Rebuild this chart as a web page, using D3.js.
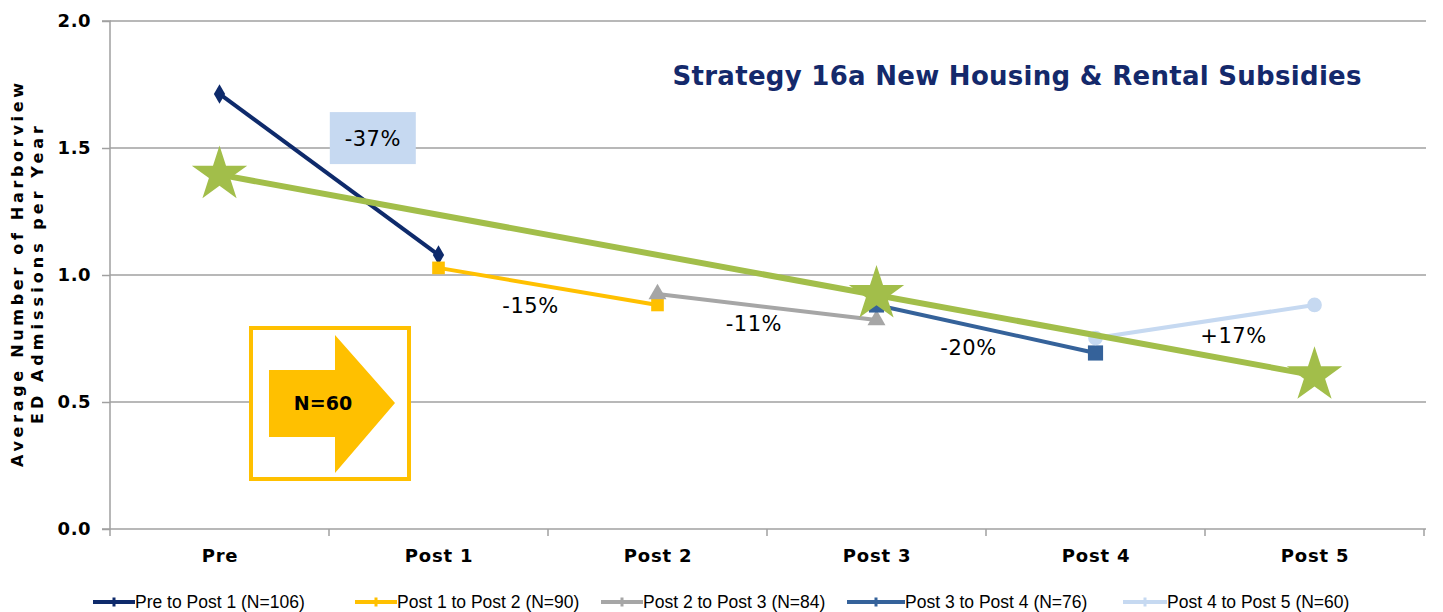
<!DOCTYPE html>
<html><head><meta charset="utf-8">
<script src="https://cdn.jsdelivr.net/npm/d3@7"></script>
<style>body{margin:0;background:#fff}svg{display:block}</style>
</head><body>
<svg id="c" width="1443" height="612"></svg>
<script>
const categories = ["Pre","Post 1","Post 2","Post 3","Post 4","Post 5"];
const yTicks = [0, 0.5, 1.0, 1.5, 2.0];
const seriesNames = ["Pre to Post 1 (N=106)","Post 1 to Post 2 (N=90)","Post 2 to Post 3 (N=84)","Post 3 to Post 4 (N=76)","Post 4 to Post 5 (N=60)"];
const seriesCats = [["Pre","Post 1"],["Post 1","Post 2"],["Post 2","Post 3"],["Post 3","Post 4"],["Post 4","Post 5"]];
const seriesValues = [[1.713,1.079],[1.028,0.882],[0.925,0.823],[0.882,0.693],[0.752,0.882]];
const seriesColors = ["#0E2A6B","#FFC000","#A6A6A6","#35629A","#C6D9F1"];
const seriesMarkers = ["diamond","square","triangle","square","circle"];
const markerSizes = [110,160,140,230,170];
const trendCats = ["Pre","Post 3","Post 5"];
const trendValues = [1.395,0.925,0.605];
const changeLabels = ["-37%","-15%","-11%","-20%","+17%"];
const changeAnchorCats = ["Pre","Post 1","Post 2","Post 3","Post 4"];
const changeAnchorFrac = [0.70,0.42,0.44,0.42,0.63];
const changeAnchorVals = [1.539,0.882,0.811,0.713,0.764];
const title = "Strategy 16a New Housing & Rental Subsidies";
const yTitle = ["Average Number of Harborview","ED Admissions per Year"];
const nLabel = "N=60";

const svg = d3.select("#c");
const L=110, R=1424, T=21, B=529;
const x = d3.scalePoint().domain(categories).range([L,R]).padding(0.5);
const y = d3.scaleLinear().domain([0,2]).range([B,T]);
const step = x.step();

// gridlines
svg.append("g").selectAll("line").data(yTicks.filter(d=>d>0)).join("line")
  .attr("x1",L).attr("x2",R+2).attr("y1",d=>y(d)).attr("y2",d=>y(d))
  .attr("stroke","#A0A0A0").attr("stroke-width",1.5);

// y axis
const ya = svg.append("g").attr("transform",`translate(${L},0)`)
  .call(d3.axisLeft(y).tickValues(yTicks).tickFormat(d3.format(".1f")).tickSize(8).tickPadding(11));
ya.select(".domain").attr("stroke","#A0A0A0").attr("stroke-width",1.5).attr("d",`M-8,${T}H0V${B}`);
ya.selectAll(".tick line").attr("stroke","#A0A0A0").attr("stroke-width",1.5);
ya.selectAll(".tick text").attr("font-family","DejaVu Sans").attr("font-weight","bold").attr("font-size",18).attr("fill","#000").attr("letter-spacing",0.5);

// x axis
const xa = svg.append("g").attr("transform",`translate(0,${B})`)
  .call(d3.axisBottom(x).tickSize(0).tickPadding(26));
xa.select(".domain").attr("stroke","#A0A0A0").attr("stroke-width",1.5).attr("d",`M${L-8},0H${R+2}`);
xa.selectAll(".tick text").attr("font-family","DejaVu Sans").attr("font-weight","bold").attr("font-size",18).attr("fill","#000").attr("letter-spacing",0.8).attr("dy","0.4em");
xa.selectAll("line.bt").data(d3.range(categories.length+1)).join("line").attr("class","bt")
  .attr("x1",i=>L+i*step).attr("x2",i=>L+i*step).attr("y1",0).attr("y2",7)
  .attr("stroke","#A0A0A0").attr("stroke-width",1.5);

// y title
const yt = svg.append("text").attr("transform","rotate(-90)")
  .attr("font-family","DejaVu Sans").attr("font-weight","bold").attr("font-size",16).attr("fill","#000").attr("text-anchor","middle");
yt.append("tspan").attr("x",-(T+B)/2).attr("y",23).attr("textLength",384).attr("lengthAdjust","spacing").text(yTitle[0]);
yt.append("tspan").attr("x",-(T+B)/2).attr("y",43).attr("textLength",298).attr("lengthAdjust","spacing").text(yTitle[1]);

// title
svg.append("text").attr("x",1017).attr("y",85).attr("text-anchor","middle")
  .attr("font-family","DejaVu Sans").attr("font-weight","bold").attr("font-size",26).attr("fill","#14296B")
  .attr("textLength",689).attr("lengthAdjust","spacing").text(title);

const symType = {diamond:d3.symbolDiamond,square:d3.symbolSquare,triangle:d3.symbolTriangle,circle:d3.symbolCircle};

// series
seriesValues.forEach((vals,i)=>{
  const pts = vals.map((v,j)=>[x(seriesCats[i][j]),y(v)]);
  const g = svg.append("g");
  g.append("path").attr("d",d3.line()(pts)).attr("fill","none").attr("stroke",seriesColors[i]).attr("stroke-width",4);
  g.selectAll("path.m").data(pts).join("path").attr("class","m")
    .attr("transform",d=>`translate(${d[0]},${d[1]})`)
    .attr("d",d3.symbol().type(symType[seriesMarkers[i]]).size(markerSizes[i]))
    .attr("fill",seriesColors[i]);
});

// trend
const tpts = trendCats.map((c,j)=>[x(c),y(trendValues[j])]);
svg.append("path").attr("d",d3.line()([tpts[0],tpts[tpts.length-1]])).attr("fill","none").attr("stroke","#A2BE4A").attr("stroke-width",6);
svg.selectAll("path.star").data(tpts).join("path").attr("class","star")
  .attr("transform",d=>`translate(${d[0]},${d[1]})`)
  .attr("d",d3.symbol().type(d3.symbolStar).size(950)).attr("fill","#A2BE4A");

// change labels
changeLabels.forEach((t,i)=>{
  const cx = x(changeAnchorCats[i]) + step*changeAnchorFrac[i];
  const cy = y(changeAnchorVals[i]);
  if(i===0){
    svg.append("rect").attr("x",cx-43).attr("y",cy-26).attr("width",86).attr("height",52).attr("fill","#C6D9F1");
  }
  svg.append("text").attr("x",cx).attr("y",cy).attr("dy","0.36em").attr("text-anchor","middle")
    .attr("font-family","DejaVu Sans").attr("font-size",21).attr("letter-spacing",0.5).attr("fill","#000").text(t);
});

// N=60 box
svg.append("rect").attr("x",251).attr("y",328).attr("width",158).attr("height",151).attr("fill","#fff").attr("stroke","#FFC000").attr("stroke-width",4);
svg.append("path").attr("d","M269,370H335V335L395,403L335,473V437H269Z").attr("fill","#FFC000");
svg.append("text").attr("x",323).attr("y",403).attr("dy","0.36em").attr("text-anchor","middle")
  .attr("font-family","DejaVu Sans").attr("font-weight","bold").attr("font-size",19).attr("fill","#000").text(nLabel);

// legend
const legX = [93,355,601,847,1123];
const legTextX = [135,397,643,905,1167];
const lg = svg.append("g");
seriesNames.forEach((n,i)=>{
  const g = lg.append("g").attr("transform",`translate(${legX[i]},602)`);
  const w = legTextX[i]-legX[i];
  g.append("line").attr("x1",0).attr("x2",w).attr("stroke",seriesColors[i]).attr("stroke-width",4);
  g.append("path").attr("transform",`translate(${w/2},0)`).attr("d",d3.symbol().type(d3.symbolCross).size(45)).attr("fill",seriesColors[i]);
  g.append("text").attr("x",w).attr("dy","0.35em").attr("font-family","Liberation Sans Narrow, Liberation Sans").attr("font-size",17.5).attr("fill","#000").text(n);
});
</script>
</body></html>
